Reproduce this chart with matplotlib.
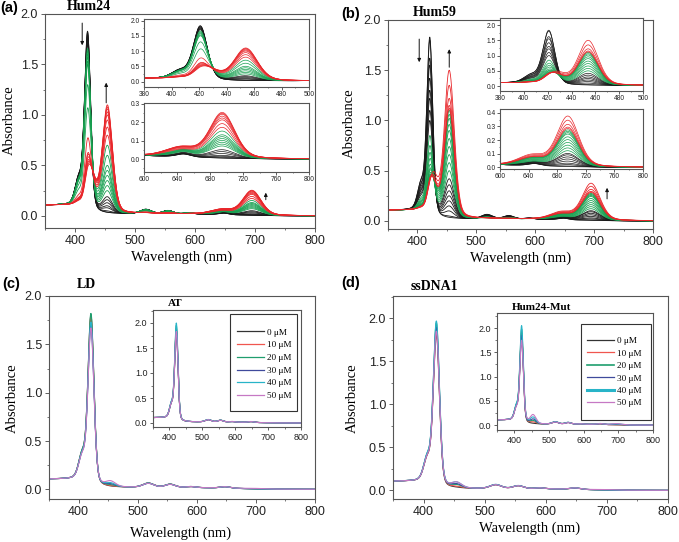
import numpy as np
import matplotlib
matplotlib.use('Agg')
import matplotlib.pyplot as plt
from matplotlib.ticker import MultipleLocator
from matplotlib.patches import Rectangle

W, H = 679, 542
SERIF = 'Liberation Serif'
SANS = 'Liberation Sans'
plt.rcParams['font.family'] = SANS

wl = np.arange(350, 800.5, 0.5)

# ---------------- band shapes (centre, FWHM, relative height) ----------------
FREE_C = [406, 421, 518, 555, 590, 648]
FREE_W = [14, 12, 22, 20, 18, 20]
FREE_R = [0.14, 1.0, 0.025, 0.019, 0.006, 0.009]
BOUND_C = [454, 428]
BOUND_W = [20, 18]
BOUND_R_HUM24 = [1.0, 0.30]
BOUND_R_HUM59 = [1.0, 0.25]
QB_C = [695, 645]
QB_W = [36, 45]
QB_R = [1.0, 0.2]

# ---------------- read peak absorbances (421 nm, 454 nm, 695 nm) ----------------
# (a) Hum24
A_BLACK_421 = [1.83, 1.82, 1.80, 1.78, 1.76, 1.74, 1.72, 1.70]
A_BLACK_454 = [0.00, 0.03, 0.05, 0.08, 0.10, 0.13, 0.16, 0.19]
A_BLACK_695 = [0.00, 0.005, 0.01, 0.015, 0.02, 0.03, 0.04, 0.05]
A_GREEN_421 = [1.66, 1.63, 1.60, 1.57, 1.53, 1.50, 1.30, 1.07]
A_GREEN_454 = [0.25, 0.30, 0.35, 0.40, 0.45, 0.50, 0.60, 0.70]
A_GREEN_695 = [0.07, 0.08, 0.09, 0.10, 0.11, 0.12, 0.13, 0.15]
A_RED_421 = [0.77, 0.62, 0.60, 0.57, 0.54, 0.52, 0.50, 0.48]
A_RED_454 = [0.80, 0.88, 0.95, 1.00, 1.03, 1.06, 1.08, 1.10]
A_RED_695 = [0.17, 0.19, 0.21, 0.22, 0.23, 0.24, 0.245, 0.25]
# (b) Hum59
B_BLACK_421 = [1.83, 1.80, 1.62, 1.55, 1.42, 1.30, 1.22, 1.10, 1.00]
B_BLACK_454 = [0.02, 0.05, 0.10, 0.15, 0.20, 0.25, 0.30, 0.36, 0.42]
B_BLACK_695 = [0.00, 0.01, 0.02, 0.03, 0.045, 0.06, 0.075, 0.09, 0.10]
B_GREEN_421 = [0.85, 0.75, 0.68, 0.62, 0.56, 0.52, 0.50, 0.47, 0.45, 0.44]
B_GREEN_454 = [0.50, 0.58, 0.66, 0.74, 0.82, 0.90, 0.96, 1.02, 1.06, 1.10]
B_GREEN_695 = [0.12, 0.14, 0.16, 0.18, 0.20, 0.22, 0.24, 0.25, 0.26, 0.27]
B_RED_421 = [0.43, 0.42, 0.41, 0.40, 0.40]
B_RED_454 = [1.12, 1.15, 1.22, 1.35, 1.50]
B_RED_695 = [0.28, 0.29, 0.31, 0.34, 0.37]
# (c)/(d) concentrations
CONC_LABELS = ['0 μM', '10 μM', '20 μM', '30 μM', '40 μM', '50 μM']
CONC_COLORS = ['#333333', '#f0564f', '#1f9e6e', '#3f4a9c', '#28b4c8', '#c678c4']
C_LD_421 = [1.80, 1.78, 1.82, 1.70, 1.73, 1.67]
C_LD_454 = [0.03, 0.04, 0.05, 0.06, 0.07, 0.09]
C_LD_695 = [0.0, 0.0, 0.0, 0.005, 0.005, 0.01]
C_AT_421 = [1.85, 1.90, 1.95, 1.85, 2.00, 1.83]
C_AT_454 = [0.03, 0.03, 0.035, 0.035, 0.04, 0.04]
C_AT_695 = [0.0, 0.0, 0.0, 0.0, 0.0, 0.0]
D_SS_421 = [1.82, 1.85, 1.95, 1.90, 1.97, 1.85]
D_SS_454 = [0.04, 0.05, 0.07, 0.08, 0.10, 0.10]
D_SS_695 = [0.0, 0.0, 0.0, 0.005, 0.005, 0.01]
D_MUT_421 = [1.85, 1.90, 1.98, 1.85, 2.05, 1.75]
D_MUT_454 = [0.04, 0.07, 0.10, 0.13, 0.17, 0.22]
D_MUT_695 = [0.0, 0.01, 0.015, 0.02, 0.025, 0.03]

BLACK, GREEN, RED = '#1a1a1a', '#17a050', '#e8262a'


def pv(x, c, w, eta=0.25):
    d = (x - c) / w
    return (1 - eta) * np.exp(-4 * np.log(2) * d ** 2) + eta / (1 + 4 * d ** 2)


def shape(x, cs, ws, rs):
    return sum(r * pv(x, c, w) for c, w, r in zip(cs, ws, rs))


def background(x):
    return 0.085 / (1 + np.exp((x - 418) / 7.0)) + 0.02 / (1 + np.exp((x - 660) / 35.0))


def spectrum(a421, a454, a695, bound_r=BOUND_R_HUM24):
    F = lambda t: shape(t, FREE_C, FREE_W, FREE_R)
    B = lambda t: shape(t, BOUND_C, BOUND_W, bound_r)
    Q = lambda t: shape(t, QB_C, QB_W, QB_R)
    r = max(a695 - background(695.0), 0.0)
    pts = np.array([421.0, 454.0])
    M = np.array([[F(421.0), B(421.0)], [F(454.0), B(454.0)]])
    rhs = np.array([a421, a454]) - background(pts) - r * Q(pts)
    p, b = np.linalg.solve(M, rhs)
    if b < 0:
        b = 0.0
        p = rhs[0] / F(421.0)
    return background(wl) + p * F(wl) + b * B(wl) + r * Q(wl)


def rect(l, t, r, b):
    return [l / W, 1 - b / H, (r - l) / W, (b - t) / H]


def style(ax, fs, xmaj, xmin, ymaj, ymin, lmaj=3.0, lmin=1.6, pad=2):
    ax.xaxis.set_major_locator(MultipleLocator(xmaj))
    ax.xaxis.set_minor_locator(MultipleLocator(xmin))
    ax.yaxis.set_major_locator(MultipleLocator(ymaj))
    ax.yaxis.set_minor_locator(MultipleLocator(ymin))
    ax.tick_params(which='major', direction='out', length=lmaj, width=0.6,
                   labelsize=fs, color='#444444', labelcolor='#222222', pad=pad)
    ax.tick_params(which='minor', direction='out', length=lmin, width=0.5, color='#444444')
    for s in ax.spines.values():
        s.set_color('#555555')
        s.set_linewidth(0.8)
    ax.yaxis.set_major_formatter(matplotlib.ticker.FormatStrFormatter('%.1f'))


def draw_titration(ax, groups, lw):
    for a421s, a454s, a695s, col, br in groups:
        for a1, a2, a3 in zip(a421s, a454s, a695s):
            ax.plot(wl, spectrum(a1, a2, a3, br), color=col, lw=lw)


def arrow(ax, x, y0, y1):
    ax.annotate('', xy=(x, y1), xytext=(x, y0),
                arrowprops=dict(arrowstyle='-|>', lw=0.7, color='#111111',
                                mutation_scale=5, shrinkA=0, shrinkB=0))


fig = plt.figure(figsize=(W / 100, H / 100), dpi=100)

groups_a = [(A_BLACK_421, A_BLACK_454, A_BLACK_695, BLACK, BOUND_R_HUM24),
            (A_GREEN_421, A_GREEN_454, A_GREEN_695, GREEN, BOUND_R_HUM24),
            (A_RED_421, A_RED_454, A_RED_695, RED, BOUND_R_HUM24)]
groups_b = [(B_BLACK_421, B_BLACK_454, B_BLACK_695, BLACK, BOUND_R_HUM59),
            (B_GREEN_421, B_GREEN_454, B_GREEN_695, GREEN, BOUND_R_HUM59),
            (B_RED_421, B_RED_454, B_RED_695, RED, BOUND_R_HUM59)]

MAIN_FS = 9

# ---------------- (a) ----------------
ax = fig.add_axes(rect(45, 14, 315, 228))
draw_titration(ax, groups_a, 0.6)
ax.set_xlim(350, 800); ax.set_ylim(-0.12, 2.0)
style(ax, MAIN_FS, 100, 50, 0.5, 0.25)
arrow(ax, 412, 1.91, 1.69)
arrow(ax, 452, 1.12, 1.32)
arrow(ax, 718, 0.16, 0.23)

ax = fig.add_axes(rect(144, 19, 309, 87))
draw_titration(ax, groups_a, 0.5)
ax.set_xlim(380, 500); ax.set_ylim(-0.18, 2.05)
style(ax, 4.8, 20, 10, 0.5, 0.25, 2.0, 1.0, 1)
ax.xaxis.set_major_formatter(matplotlib.ticker.FormatStrFormatter('%d'))

ax = fig.add_axes(rect(144, 103, 309, 172))
draw_titration(ax, groups_a, 0.5)
ax.set_xlim(600, 800); ax.set_ylim(-0.07, 0.305)
style(ax, 4.8, 40, 20, 0.1, 0.05, 2.0, 1.0, 1)
ax.xaxis.set_major_formatter(matplotlib.ticker.FormatStrFormatter('%d'))

# ---------------- (b) ----------------
ax = fig.add_axes(rect(388, 20, 653, 229))
draw_titration(ax, groups_b, 0.6)
ax.set_xlim(350, 800); ax.set_ylim(-0.08, 2.0)
style(ax, MAIN_FS, 100, 50, 0.5, 0.25)
arrow(ax, 403, 1.81, 1.58)
arrow(ax, 454, 1.53, 1.71)
arrow(ax, 722, 0.22, 0.33)

ax = fig.add_axes(rect(500, 18, 643, 91))
draw_titration(ax, groups_b, 0.5)
ax.set_xlim(380, 500); ax.set_ylim(-0.16, 2.23)
style(ax, 4.8, 20, 10, 0.5, 0.25, 2.0, 1.0, 1)
ax.xaxis.set_major_formatter(matplotlib.ticker.FormatStrFormatter('%d'))

ax = fig.add_axes(rect(500, 109, 643, 169))
draw_titration(ax, groups_b, 0.5)
ax.set_xlim(600, 800); ax.set_ylim(-0.012, 0.427)
style(ax, 4.8, 40, 20, 0.1, 0.05, 2.0, 1.0, 1)
ax.xaxis.set_major_formatter(matplotlib.ticker.FormatStrFormatter('%d'))


# ---------------- (c), (d) ----------------
def draw_conc(ax, a421s, a454s, a695s, lw, widths=None):
    lines = []
    for i, (a1, a2, a3) in enumerate(zip(a421s, a454s, a695s)):
        l, = ax.plot(wl, spectrum(a1, a2, a3), color=CONC_COLORS[i],
                     lw=(widths[i] if widths else lw), label=CONC_LABELS[i])
        lines.append(l)
    return lines


def boxed_legend(ax, lines, x_left, y_top, box, spacing, hl_widths=None):
    leg = ax.legend(handles=lines, loc='upper left', bbox_to_anchor=(x_left, y_top),
                    frameon=False, borderpad=0, borderaxespad=0, handlelength=2.95,
                    handletextpad=0.3, labelspacing=spacing,
                    prop={'family': SERIF, 'size': 6.6})
    if hl_widths:
        for h, w in zip(leg.legend_handles, hl_widths):
            h.set_linewidth(w)
    x0, y0, x1, y1 = box
    ax.add_patch(Rectangle((x0, y0), x1 - x0, y1 - y0, transform=ax.transAxes,
                           fill=False, ec='#333333', lw=0.8, zorder=5))


ax = fig.add_axes(rect(49, 296, 315, 499))
draw_conc(ax, C_LD_421, C_LD_454, C_LD_695, 0.8)
ax.set_xlim(350, 800); ax.set_ylim(-0.1, 2.0)
style(ax, MAIN_FS, 100, 50, 0.5, 0.25)

ax = fig.add_axes(rect(153, 310, 301, 427))
lines = draw_conc(ax, C_AT_421, C_AT_454, C_AT_695, 0.8)
ax.set_xlim(350, 800); ax.set_ylim(-0.08, 2.26)
style(ax, 6.5, 100, 50, 0.5, 0.25, 2.5, 1.3, 1.5)
boxed_legend(ax, lines, 0.566, 0.845, (0.52, 0.137, 0.973, 0.966), 0.47,
             [0.9] * 6)

ax = fig.add_axes(rect(393, 296, 668, 499))
draw_conc(ax, D_SS_421, D_SS_454, D_SS_695, 0.8)
ax.set_xlim(350, 800); ax.set_ylim(-0.1, 2.26)
style(ax, MAIN_FS, 100, 50, 0.5, 0.25)

ax = fig.add_axes(rect(497, 313, 653, 430))
lines = draw_conc(ax, D_MUT_421, D_MUT_454, D_MUT_695, 0.8)
ax.set_xlim(350, 800); ax.set_ylim(-0.1, 2.31)
style(ax, 6.5, 100, 50, 0.5, 0.25, 2.5, 1.3, 1.5)
boxed_legend(ax, lines, 0.577, 0.797, (0.54, 0.085, 0.99, 0.906), 0.44,
             [0.9, 0.9, 1.2, 0.9, 2.2, 0.9])


# ---------------- texts ----------------
def ft(x, y, s, **kw):
    fig.text(x / W, 1 - y / H, s, ha='center', va='center', **kw)


for (x, y, s) in [(9, 8, '(a)'), (351, 14, '(b)'), (11, 284, '(c)'), (351, 283, '(d)')]:
    ft(x, y, s, fontsize=10.5, fontweight='bold', family=SANS)
for (x, y, s, fs) in [(89, 7, 'Hum24', 10), (435, 13, 'Hum59', 10), (86, 285, 'LD', 10),
                      (434, 286, 'ssDNA1', 10), (175, 304, 'AT', 8), (541, 307, 'Hum24-Mut', 8)]:
    ft(x, y, s, fontsize=fs, fontweight='bold', family=SERIF)
for (x, y) in [(9, 120), (349, 123), (12, 398), (352, 398)]:
    ft(x, y, 'Absorbance', fontsize=10.5, family=SERIF, rotation=90)
for (x, y) in [(182, 257), (521, 258), (181, 533), (530, 528)]:
    ft(x, y, 'Wavelength (nm)', fontsize=10.5, family=SERIF)

fig.savefig('out.png', dpi=100)
